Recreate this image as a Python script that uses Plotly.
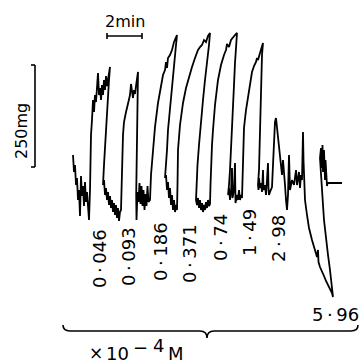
import plotly.graph_objects as go

# Recorder trace (chart-paper units: time along x, pen height = tension)
t_seg = [73,74,75,76,77,78,79,80,81,82,83,84,85,86,87,88,89,
         90,90.5,91,92,92.5,93,94,95,96,97,98,99,100,101,102,103,104,105,106,107,110,
         109,107,105,104,103,
         104,105,106,107,108,109,110,111,112,113,114,115,116,117,118,119,120,121,
         121.5,122,123,124,125,126,127,128,129,130,131,132,133,134,135,136,137,138,
         137.8,137.3,136.8,136.4,136.2,136.5,
         137.5,138.5,139.5,140.5,141.5,142.5,143.5,144.5,145.5,146.5,147.5,148.5,150,
         151,153,155,158,161,163,165,166,167,168,170,172,174,177,
         176,174,172,170,168,167,166,165,
         166,167,168,169,170,171,172,173,174,175,176,177,
         177.5,178,180,183,186,189,192,195,198,200,202,204,206,208,210,
         209,207,205,203,201,199,197.5,196.5,196,
         197,198,199,200,201,202,203,204,205,206,207,208,209,210,
         210.5,211,212,213,215,218,221,224,226,227,229,231,233,235,237,
         236,235,234,233,232,231,230,229,228,
         229,230,231,232,232.5,234,235,235.5,237,238,239,240,241,242,
         242.5,243,244,246,248,250,252,254,256,257,258,260,261,262,263,
         262,261.5,261,260,259.5,259,258,
         258.5,259,260,261,262,263,263.5,265,266,267,268,268.5,269,270,271,272,
         273,274,275,276,277,278,279,280,281,282,283,284,285,286,287,288,289,290,292,294,296,297,299,300,301,302,303,
         303.5,304,305,307,309,312,315,317,318,318.5,320,322,324,326,328,330,332,333,
         332,330,328,326,324,323,322,321,320,321,322,322.5,323,324,325,325.5,326,327,327.5,342]

tension = [209,192,199,179,186,164,174,148,188,168,178,158,182,162,172,150,144,
           174,204,229,244,254,264,252,269,262,279,291,269,276,264,279,269,284,274,288,278,297,
           284,254,224,199,179,
           184,169,176,164,172,159,168,156,164,152,161,149,159,146,156,143,152,154,
           179,204,229,242,249,252,256,260,264,269,280,272,266,274,270,278,284,292,
           279,254,224,194,169,144,
           172,162,181,160,178,158,174,154,170,158,178,162,164,
           189,214,237,261,279,289,294,302,296,306,309,314,322,329,
           319,299,279,259,234,214,199,186,
           189,174,182,166,176,159,169,154,164,152,159,154,
           179,214,239,261,276,287,297,306,314,317,319,324,322,328,331,
           319,304,284,264,244,219,199,179,164,
           159,166,156,164,154,161,152,159,154,162,156,164,158,160,
           179,199,219,234,259,284,299,309,314,320,317,324,327,329,331,
           319,301,279,254,229,209,194,179,169,
           176,164,172,196,166,174,201,161,169,164,174,164,169,166,
           194,219,236,254,267,279,292,298,302,306,304,311,314,319,321,
           309,289,264,239,214,194,179,
           174,186,176,181,172,194,174,179,169,184,201,176,169,172,174,177,
           199,224,242,246,236,226,216,209,199,189,204,186,179,164,154,169,209,174,184,179,194,179,192,176,189,184,232,
           204,179,164,149,136,124,114,107,114,102,97,93,88,83,79,75,71,67,
           79,94,109,126,144,159,174,189,206,216,196,219,192,214,184,204,188,178,181,181]

# Concentration labels (x 10^-4 M)
conc_labels = ["0·046", "0·093", "0·186", "0·371", "0·74", "1·49", "2·98"]
conc_x = [99, 128, 160, 189, 220, 249, 278]
conc_y = [105, 107, 112, 110, 126, 131, 125]
last_label = "5·96"

FONT = "DejaVu Sans"

fig = go.Figure()
fig.add_trace(go.Scatter(x=t_seg, y=tension, mode="lines",
                         line=dict(color="black", width=1.8),
                         hoverinfo="skip", showlegend=False))

ann = []
for lab, x, y in zip(conc_labels, conc_x, conc_y):
    ann.append(dict(x=x, y=y, text=lab.replace("·", "\u2009·\u2009"), textangle=-90,
                    showarrow=False, xanchor="center", yanchor="middle",
                    font=dict(family=FONT, size=18, color="black")))
ann.append(dict(x=335, y=49.5, text=last_label.replace("·", "\u2009·\u2009"), showarrow=False,
                xanchor="center", yanchor="middle",
                font=dict(family=FONT, size=18, color="black")))
ann.append(dict(x=125, y=343, text="2min", showarrow=False, xanchor="center", yanchor="middle",
                font=dict(family=FONT, size=16, color="black")))
ann.append(dict(x=21, y=233, text="250mg", textangle=-90, showarrow=False,
                xanchor="center", yanchor="middle",
                font=dict(family=FONT, size=16, color="black")))
for txt, x, y, sz in [("×", 96, 11, 17), ("10", 117.5, 11, 18), ("−", 140, 17, 18),
                      ("4", 158, 19, 18), ("M", 175.5, 11, 18)]:
    ann.append(dict(x=x, y=y, text=txt, showarrow=False, xanchor="center", yanchor="middle",
                    font=dict(family=FONT, size=sz, color="black")))

line = dict(color="black", width=1.6)
shapes = [
    # 2 min scale bar
    dict(type="line", x0=107, x1=142, y0=328, y1=328, xref="x", yref="y", line=line),
    dict(type="line", x0=107, x1=107, y0=325, y1=331, xref="x", yref="y", line=line),
    dict(type="line", x0=142, x1=142, y0=325, y1=331, xref="x", yref="y", line=line),
    # 250 mg scale bar
    dict(type="line", x0=35, x1=35, y0=197, y1=299, xref="x", yref="y", line=line),
    dict(type="line", x0=31, x1=35, y0=299, y1=299, xref="x", yref="y", line=line),
    dict(type="line", x0=31, x1=35, y0=197, y1=197, xref="x", yref="y", line=line),
    # brace
    dict(type="path", xref="x", yref="y", line=line,
         path="M 63,39 Q 63,33 70,33 L 200,33 Q 207,33 207,26 Q 207,33 214,33 L 351,33 Q 358,33 358,39"),
]

fig.update_layout(
    width=361, height=364, margin=dict(l=0, r=0, t=0, b=0),
    paper_bgcolor="white", plot_bgcolor="white",
    xaxis=dict(range=[0, 361], visible=False, fixedrange=True),
    yaxis=dict(range=[0, 364], visible=False, fixedrange=True),
    annotations=ann, shapes=shapes, showlegend=False,
)
fig.write_html("out.html")
